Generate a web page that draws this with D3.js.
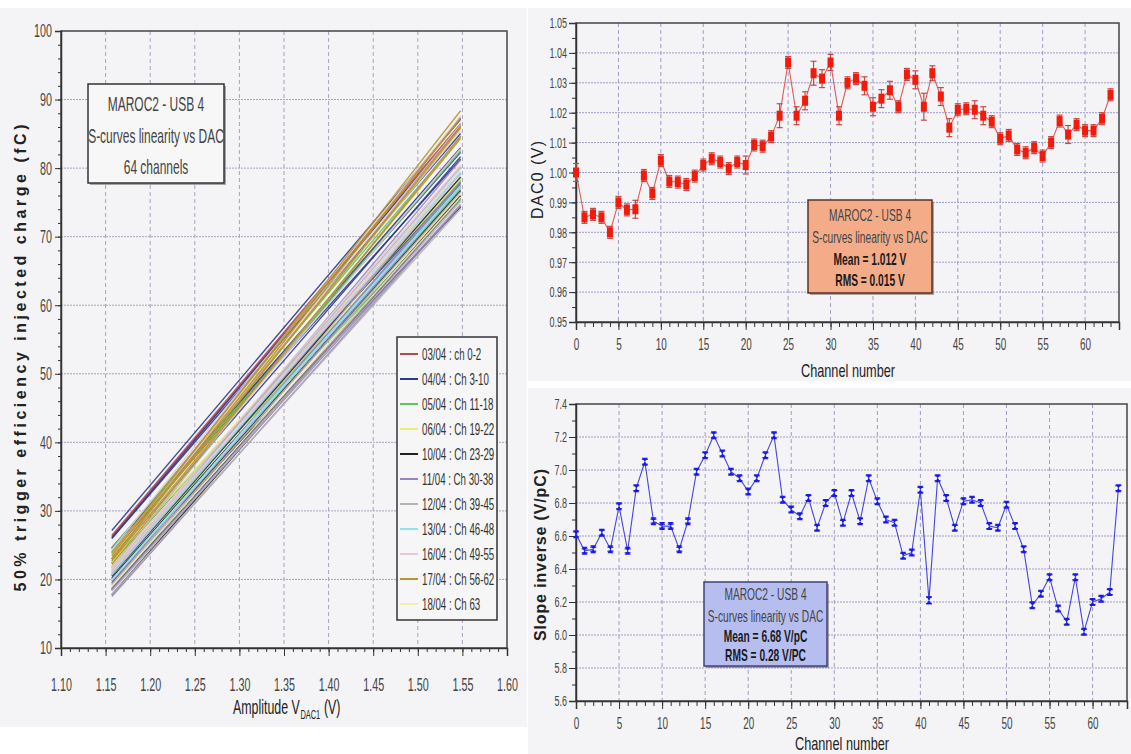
<!DOCTYPE html>
<html><head><meta charset="utf-8">
<script src="https://cdn.jsdelivr.net/npm/d3@7"></script>
<style>
body{margin:0;background:#fff;}
svg{display:block;}
text{font-family:"Liberation Sans",Arial,sans-serif;}
</style></head><body>
<svg id="c" width="1131" height="754"></svg>
<script>
// ---------------- DATA ----------------
// Per-channel pedestal (DAC0, V) and its error
const dac0 = [1.000,0.985,0.986,0.985,0.980,0.990,0.9875,0.9877,0.999,0.993,
  1.004,0.997,0.9968,0.996,0.9988,1.0025,1.0046,1.0035,1.0013,1.0035,
  1.0025,1.0092,1.0088,1.012,1.019,1.0368,1.019,1.024,1.0332,1.0314,
  1.0368,1.019,1.030,1.0314,1.029,1.022,1.0247,1.0275,1.022,1.0328,
  1.031,1.022,1.0332,1.0254,1.015,1.021,1.0213,1.021,1.019,1.017,
  1.0113,1.0124,1.0077,1.0066,1.0083,1.0055,1.010,1.0172,1.0127,1.016,
  1.014,1.014,1.018,1.026];
const dac0Err = [0.003,0.002,0.002,0.002,0.002,0.002,0.002,0.003,0.002,0.002,
  0.002,0.002,0.002,0.002,0.002,0.002,0.002,0.002,0.002,0.002,
  0.003,0.002,0.002,0.002,0.004,0.002,0.003,0.003,0.004,0.003,
  0.0027,0.003,0.002,0.002,0.003,0.003,0.003,0.003,0.002,0.002,
  0.003,0.0045,0.0025,0.003,0.003,0.002,0.002,0.003,0.003,0.002,
  0.002,0.002,0.002,0.002,0.002,0.002,0.002,0.002,0.003,0.002,
  0.002,0.002,0.002,0.002];
// Per-channel slope inverse (V/pC)
const slopeInv = [6.61,6.51,6.52,6.62,6.52,6.78,6.51,6.89,7.05,6.69,
  6.66,6.66,6.52,6.69,6.99,7.09,7.21,7.10,6.99,6.95,
  6.87,6.95,7.09,7.21,6.82,6.76,6.72,6.83,6.65,6.80,
  6.86,6.68,6.86,6.69,6.95,6.81,6.70,6.68,6.48,6.50,
  6.88,6.21,6.95,6.83,6.65,6.81,6.82,6.80,6.66,6.65,
  6.79,6.66,6.52,6.18,6.25,6.35,6.16,6.08,6.35,6.02,
  6.20,6.22,6.26,6.89];
const slopeErr = [0.015,0.012,0.012,0.015,0.012,0.015,0.012,0.015,0.015,0.012,
  0.012,0.012,0.012,0.012,0.015,0.015,0.015,0.015,0.015,0.015,
  0.015,0.015,0.015,0.015,0.015,0.015,0.015,0.015,0.015,0.015,
  0.015,0.015,0.015,0.015,0.015,0.015,0.015,0.015,0.015,0.015,
  0.015,0.02,0.015,0.015,0.015,0.015,0.015,0.015,0.015,0.015,
  0.015,0.015,0.015,0.015,0.015,0.015,0.015,0.015,0.015,0.015,
  0.015,0.015,0.015,0.015];
// Left panel: charge at 50% efficiency (fC) at first / last DAC1 amplitude, per channel
const ampRange = [1.157, 1.548];
const qStart = [23.75,26.42,26.23,25.98,27.15,24.63,26.04,24.57,22.41,24.51,
  22.97,24.02,24.57,24.07,22.63,21.79,21.14,21.62,22.27,22.09,
  22.49,21.27,20.90,20.11,20.23,17.78,20.54,19.47,18.62,18.47,
  17.52,20.66,18.51,18.77,18.42,19.82,19.75,19.39,20.83,19.11,
  18.31,21.74,17.81,19.27,21.35,19.97,19.90,20.00,20.72,21.05,
  21.46,21.71,22.90,24.34,23.79,23.86,23.86,22.99,22.72,23.42,
  23.06,22.99,22.20,19.01];
const qEnd = [82.90,86.48,86.20,85.05,87.12,82.30,86.10,81.32,77.87,82.96,
  81.68,82.73,84.54,82.51,78.57,76.94,75.37,76.69,78.21,78.35,
  79.40,77.53,76.05,74.34,77.57,75.62,78.72,76.72,77.41,75.97,
  74.52,79.19,75.51,77.22,74.68,77.24,78.10,77.92,81.17,79.26,
  75.15,84.70,74.07,76.51,80.15,77.39,77.23,77.50,79.43,79.85,
  79.04,80.42,82.87,87.61,86.35,85.43,87.34,87.30,84.30,88.37,
  86.13,85.85,84.66,75.76];
// Legend groups (measurement date : channel range)
const groupLabels = ["03/04 : ch 0-2","04/04 : Ch 3-10","05/04 : Ch 11-18","06/04 : Ch 19-22",
  "10/04 : Ch 23-29","11/04 : Ch 30-38","12/04 : Ch 39-45","13/04 : Ch 46-48",
  "16/04 : Ch 49-55","17/04 : Ch 56-62","18/04 : Ch 63"];
const groupFirstCh = [0,3,11,19,23,30,39,46,49,56,63];
// Tick values
const ampTicks = [1.10,1.15,1.20,1.25,1.30,1.35,1.40,1.45,1.50,1.55,1.60];
const chargeTicks = [10,20,30,40,50,60,70,80,90,100];
const chTicks = [0,5,10,15,20,25,30,35,40,45,50,55,60];
const dacTicks = [0.95,0.96,0.97,0.98,0.99,1.00,1.01,1.02,1.03,1.04,1.05];
const slopeTicks = [5.6,5.8,6.0,6.2,6.4,6.6,6.8,7.0,7.2,7.4];
// Info boxes
const leftInfo = ["MAROC2 - USB 4","S-curves linearity vs DAC","64 channels"];
const dacInfo = ["MAROC2 - USB 4","S-curves linearity vs DAC","Mean = 1.012 V","RMS = 0.015 V"];
const slopeInfo = ["MAROC2 - USB 4","S-curves linearity vs DAC","Mean = 6.68 V/pC","RMS = 0.28 V/PC"];

// ---------------- STYLE ----------------
const groupColors = ["#b5484e","#2e3a8c","#5cc85c","#ecec70","#222222","#9a86b8",
  "#b4b4b4","#8ee4f0","#e6c8dc","#b8962e","#f0eeb0"];
const panelBg = "#f4f4f6";
const gridCol = "#9c9cc8";

const svg = d3.select("#c");
svg.append("rect").attr("x",0).attr("y",8).attr("width",527).attr("height",719).attr("fill",panelBg);
svg.append("rect").attr("x",528).attr("y",8).attr("width",603).attr("height",373).attr("fill",panelBg);
svg.append("rect").attr("x",528).attr("y",388).attr("width",603).attr("height",366).attr("fill",panelBg);

function grid(g, x, y, xv, yv, top, bottom, left, right, col){
  g.selectAll(".gx").data(xv).enter().append("line")
    .attr("x1",d=>x(d)).attr("x2",d=>x(d)).attr("y1",top).attr("y2",bottom)
    .attr("stroke",col).attr("stroke-width",1).attr("stroke-dasharray","4,3");
  g.selectAll(".gy").data(yv).enter().append("line")
    .attr("y1",d=>y(d)).attr("y2",d=>y(d)).attr("x1",left).attr("x2",right)
    .attr("stroke",col).attr("stroke-width",1).attr("stroke-dasharray","2,1");
}
function styleAxis(sel, fs, f){
  sel.selectAll("path").attr("stroke","#333").attr("stroke-width",1.5);
  sel.selectAll("line").attr("stroke","#333");
  sel.selectAll("text").attr("fill","#444").style("font-size",fs+"px")
    .classed("n",true).attr("data-f",f);
}
function minorAxis(g, axisFn, scale, vals, size, transform){
  const a = g.append("g").attr("transform",transform)
    .call(axisFn(scale).tickValues(vals).tickSize(size).tickFormat(""));
  a.select("path").remove();
  a.selectAll("line").attr("stroke","#333");
}
function infoBox(g, x0, y0, w, h, lines, fill, stroke, ys, boldFrom, fs, f){
  g.append("rect").attr("x",x0+2).attr("y",y0+2).attr("width",w).attr("height",h).attr("fill","#555").attr("opacity",0.5);
  g.append("rect").attr("x",x0).attr("y",y0).attr("width",w).attr("height",h)
    .attr("fill",fill).attr("stroke",stroke).attr("stroke-width",1.5);
  lines.forEach((t,i)=>{
    g.append("text").attr("class","n").attr("data-f",f)
      .attr("x",x0+w/2).attr("y",ys[i]).attr("text-anchor","middle")
      .attr("dominant-baseline","central")
      .style("font-size",fs+"px").style("font-weight",i>=boldFrom?"bold":"normal")
      .attr("fill",i>=boldFrom?"#1a1a1a":"#444").text(t);
  });
}

// ---------------- LEFT PANEL ----------------
{
  const g = svg.append("g");
  const x = d3.scaleLinear().domain([1.10,1.60]).range([61,507]);
  const y = d3.scaleLinear().domain([10,100]).range([648,31]);
  grid(g, x, y, ampTicks.slice(1,-1), chargeTicks.slice(1,-1), 31, 648, 61, 507, "#a4a4bc");
  g.append("rect").attr("x",61).attr("y",31).attr("width",446).attr("height",617)
    .attr("fill","none").attr("stroke","#444").attr("stroke-width",1.5);
  minorAxis(g, d3.axisLeft, y, d3.range(10,100.1,2), 3, "translate(61,0)");
  minorAxis(g, d3.axisBottom, x, d3.range(110,160.1,1).map(v=>v/100), 4, "translate(0,648)");
  const ay = g.append("g").attr("transform","translate(61,0)")
    .call(d3.axisLeft(y).tickValues(chargeTicks).tickSize(6).tickPadding(3).tickFormat(d3.format("d")));
  styleAxis(ay, 18.5, 0.58);
  const ax = g.append("g").attr("transform","translate(0,648)")
    .call(d3.axisBottom(x).tickValues(ampTicks).tickSize(8).tickPadding(22).tickFormat(d3.format(".2f")));
  styleAxis(ax, 18.5, 0.58);

  const line = d3.line().x(d=>x(d[0])).y(d=>y(d[1]));
  const groupOf = i => { let k=0; groupFirstCh.forEach((c,j)=>{ if(i>=c) k=j; }); return k; };
  const order = d3.range(64);
  g.append("g").selectAll("path").data(order).enter().append("path")
    .attr("d", i => line([[ampRange[0], qStart[i]], [ampRange[1], qEnd[i]]]))
    .attr("fill","none").attr("stroke", i => groupColors[groupOf(i)])
    .attr("stroke-width",1.4).attr("stroke-opacity",0.9);

  infoBox(g, 88, 84, 136, 99, leftInfo, "#f7f7f8", "#333", [103,135,166], 99, 21, 0.57);

  // legend
  const lg = g.append("g");
  lg.append("rect").attr("x",397).attr("y",337).attr("width",100).attr("height",283)
    .attr("fill","#f6f6f7").attr("stroke","#333").attr("stroke-width",1.5);
  groupLabels.forEach((t,i)=>{
    const yy = 354 + i*25;
    lg.append("line").attr("x1",400).attr("x2",418).attr("y1",yy).attr("y2",yy)
      .attr("stroke",groupColors[i]).attr("stroke-width",2);
    lg.append("text").attr("class","n").attr("data-f",0.57)
      .attr("x",422).attr("y",yy).attr("dominant-baseline","central")
      .style("font-size","17px").attr("fill","#333").text(t);
  });

  g.append("text").attr("transform","translate(20,358) rotate(-90)")
    .attr("text-anchor","middle").attr("dominant-baseline","central")
    .style("font-size","16px").style("font-weight","bold").attr("fill","#222")
    .attr("textLength",467).attr("lengthAdjust","spacing")
    .text("50% trigger efficiency injected charge (fC)");
  // x title with subscript: one text element, horizontally condensed by a transform
  const xg = g.append("g").attr("transform","translate(233,714) scale(0.62,1)");
  const xt = xg.append("text").attr("x",0).attr("y",0).attr("fill","#222").style("font-size","20px");
  xt.append("tspan").text("Amplitude V");
  xt.append("tspan").attr("dy",5).attr("dx",1).style("font-size","12px").text("DAC1");
  xt.append("tspan").attr("dy",-5).attr("dx",6).text("(V)");
}

// ---------------- TOP RIGHT ----------------
{
  const g = svg.append("g");
  const x = d3.scaleLinear().domain([0,64]).range([576,1119]);
  const y = d3.scaleLinear().domain([0.95,1.05]).range([322,23]);
  grid(g, x, y, chTicks.slice(1), dacTicks.slice(1,-1), 23, 322, 576, 1119, gridCol);
  g.append("rect").attr("x",576).attr("y",23).attr("width",543).attr("height",299)
    .attr("fill","none").attr("stroke","#444").attr("stroke-width",1.5);
  minorAxis(g, d3.axisLeft, y, d3.range(950,1050.1,5).map(v=>v/1000), 4, "translate(576,0)");
  minorAxis(g, d3.axisBottom, x, d3.range(0,64.1,1), 5, "translate(0,322)");
  const ay = g.append("g").attr("transform","translate(576,0)")
    .call(d3.axisLeft(y).tickValues(dacTicks).tickSize(7).tickPadding(2).tickFormat(d3.format(".2f")));
  styleAxis(ay, 15, 0.6);
  const ax = g.append("g").attr("transform","translate(0,322)")
    .call(d3.axisBottom(x).tickValues(chTicks).tickSize(8).tickPadding(9).tickFormat(d3.format("d")));
  styleAxis(ax, 16, 0.62);

  const idx = d3.range(dac0.length);
  g.append("path").datum(idx)
    .attr("d", d3.line().x(i=>x(i)).y(i=>y(dac0[i])))
    .attr("fill","none").attr("stroke","#e05a5a").attr("stroke-width",1.1);
  const eb = g.append("g").selectAll("g").data(idx).enter().append("g").attr("stroke","#c84848").attr("stroke-width",1.2);
  eb.append("line").attr("x1",i=>x(i)).attr("x2",i=>x(i)).attr("y1",i=>y(dac0[i]-dac0Err[i])).attr("y2",i=>y(dac0[i]+dac0Err[i]));
  eb.append("line").attr("x1",i=>x(i)-3).attr("x2",i=>x(i)+3).attr("y1",i=>y(dac0[i]-dac0Err[i])).attr("y2",i=>y(dac0[i]-dac0Err[i]));
  eb.append("line").attr("x1",i=>x(i)-3).attr("x2",i=>x(i)+3).attr("y1",i=>y(dac0[i]+dac0Err[i])).attr("y2",i=>y(dac0[i]+dac0Err[i]));
  g.append("g").selectAll("rect").data(idx).enter().append("rect")
    .attr("x",i=>x(i)-3).attr("y",i=>y(dac0[i])-5).attr("width",6).attr("height",10)
    .attr("fill","#f21a0a");

  infoBox(g, 808, 200, 124, 93, dacInfo, "#f4ac88", "#5a3020", [215,237,259,280], 2, 17, 0.6);

  g.append("text").attr("transform","translate(537,180) rotate(-90)")
    .attr("text-anchor","middle").attr("dominant-baseline","central")
    .style("font-size","16px").attr("fill","#222")
    .attr("textLength",78).attr("lengthAdjust","spacing").text("DAC0 (V)");
  g.append("text").attr("class","n").attr("data-f",0.67)
    .attr("x",848).attr("y",377).attr("text-anchor","middle")
    .style("font-size","19px").attr("fill","#222").text("Channel number");
}

// ---------------- BOTTOM RIGHT ----------------
{
  const g = svg.append("g");
  const x = d3.scaleLinear().domain([0,64]).range([576,1127]);
  const y = d3.scaleLinear().domain([5.6,7.4]).range([701,404]);
  grid(g, x, y, chTicks.slice(1), slopeTicks.slice(1,-1), 404, 701, 576, 1127, gridCol);
  g.append("rect").attr("x",576).attr("y",404).attr("width",551).attr("height",297)
    .attr("fill","none").attr("stroke","#444").attr("stroke-width",1.5);
  minorAxis(g, d3.axisLeft, y, d3.range(56,74.1,1).map(v=>v/10), 4, "translate(576,0)");
  minorAxis(g, d3.axisBottom, x, d3.range(0,64.1,1), 5, "translate(0,701)");
  const ay = g.append("g").attr("transform","translate(576,0)")
    .call(d3.axisLeft(y).tickValues(slopeTicks).tickSize(7).tickPadding(2).tickFormat(d3.format(".1f")));
  styleAxis(ay, 15, 0.6);
  const ax = g.append("g").attr("transform","translate(0,701)")
    .call(d3.axisBottom(x).tickValues(chTicks).tickSize(8).tickPadding(9).tickFormat(d3.format("d")));
  styleAxis(ax, 16, 0.62);

  const idx = d3.range(slopeInv.length);
  g.append("path").datum(idx)
    .attr("d", d3.line().x(i=>x(i)).y(i=>y(slopeInv[i])))
    .attr("fill","none").attr("stroke","#4646dc").attr("stroke-width",1.1);
  const eb = g.append("g").selectAll("g").data(idx).enter().append("g").attr("stroke","#2020c0").attr("stroke-width",1.2);
  eb.append("line").attr("x1",i=>x(i)-3).attr("x2",i=>x(i)+3).attr("y1",i=>y(slopeInv[i]-slopeErr[i])).attr("y2",i=>y(slopeInv[i]-slopeErr[i]));
  eb.append("line").attr("x1",i=>x(i)-3).attr("x2",i=>x(i)+3).attr("y1",i=>y(slopeInv[i]+slopeErr[i])).attr("y2",i=>y(slopeInv[i]+slopeErr[i]));
  g.append("g").selectAll("path").data(idx).enter().append("path")
    .attr("d", i => { const cx=x(i), cy=y(slopeInv[i]); return `M${cx-3},${cy-4}L${cx+3},${cy-4}L${cx},${cy}L${cx+3},${cy+4}L${cx-3},${cy+4}L${cx},${cy}Z`; })
    .attr("fill","#1818f0");

  infoBox(g, 704, 582, 123, 84, slopeInfo, "#b6bef0", "#40407a", [594,616,636,655], 2, 17, 0.6);

  g.append("text").attr("transform","translate(540,555) rotate(-90)")
    .attr("text-anchor","middle").attr("dominant-baseline","central")
    .style("font-size","16px").style("font-weight","bold").attr("fill","#222")
    .attr("textLength",172).attr("lengthAdjust","spacing").text("Slope inverse (V/pC)");
  g.append("text").attr("class","n").attr("data-f",0.67)
    .attr("x",842).attr("y",750).attr("text-anchor","middle")
    .style("font-size","19px").attr("fill","#222").text("Channel number");
}

// condense all narrow-style texts (the original uses a tall, narrow face)
svg.selectAll("text.n").each(function(){
  const f = +this.getAttribute("data-f");
  const w = this.getComputedTextLength();
  if (w > 0) { this.setAttribute("textLength", w*f); this.setAttribute("lengthAdjust","spacingAndGlyphs"); }
});
</script>
</body></html>
